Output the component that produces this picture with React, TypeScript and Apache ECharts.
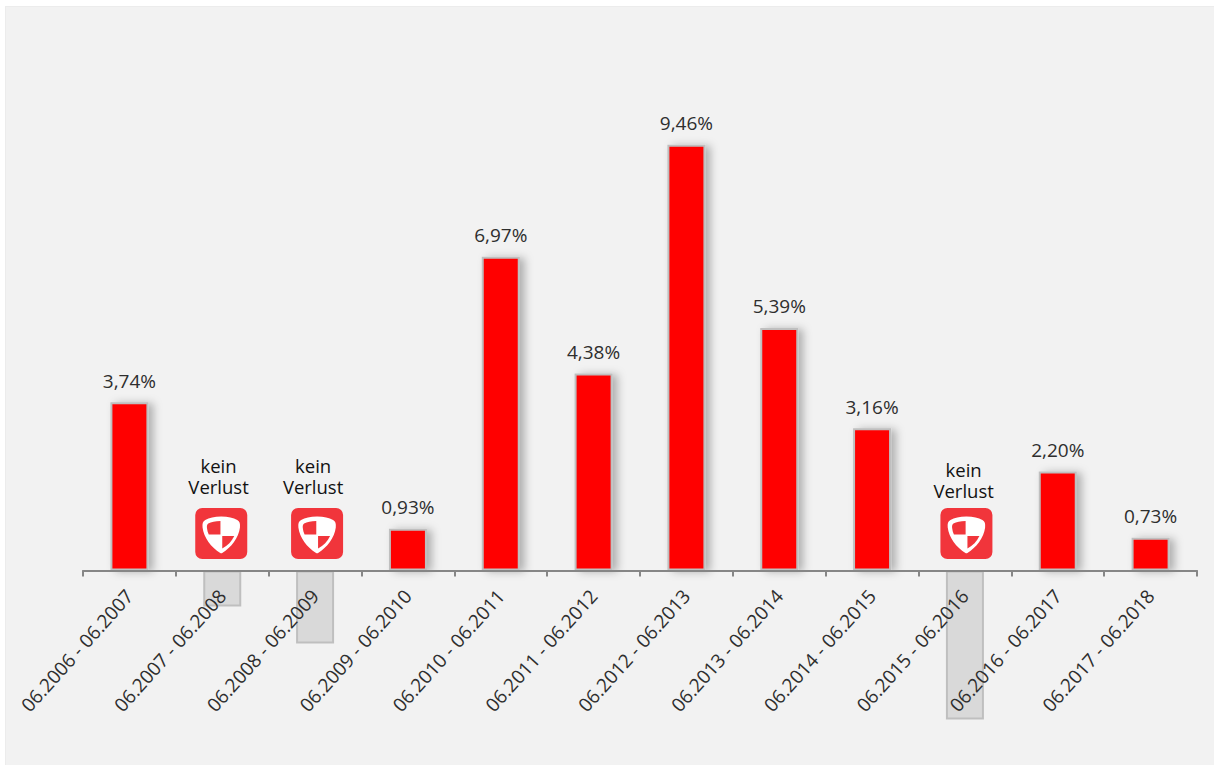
import React, { useEffect, useRef } from "react";
import * as echarts from "echarts";

const categories = [
  "06.2006 - 06.2007", "06.2007 - 06.2008", "06.2008 - 06.2009", "06.2009 - 06.2010",
  "06.2010 - 06.2011", "06.2011 - 06.2012", "06.2012 - 06.2013", "06.2013 - 06.2014",
  "06.2014 - 06.2015", "06.2015 - 06.2016", "06.2016 - 06.2017", "06.2017 - 06.2018",
];
const values = [3.74, -0.8, -1.62, 0.93, 6.97, 4.38, 9.46, 5.39, 3.16, -3.31, 2.2, 0.73];
const noLossCategories = [1, 2, 9];
const noLossText = "kein\nVerlust";

const FONT = '"Open Sans", sans-serif';

const shieldD =
  "M0,-17 C-7,-17 -12,-15.5 -16,-13.5 C-18.5,-12 -19,-10 -18.7,-6 C-17.5,4 -10,14 -1,19.5 C-0.4,19.9 0.4,19.9 1,19.5 C10,14 17.5,4 18.7,-6 C19,-10 18.5,-12 16,-13.5 C12,-15.5 7,-17 0,-17 Z";
const quarterA = "M-0.8,-12.5 C-6,-12.5 -10,-11.5 -13,-10 C-14.5,-9 -14.5,-7 -14.2,-5 C-14,-3 -13.5,-1 -12.5,1 L-0.8,1 Z";
const quarterB = "M1,2.5 L13,2.5 C10.5,8 6.5,12 1,15 Z";
echarts.graphic.registerShape("shieldOuter", echarts.graphic.extendPath(shieldD, {}));
echarts.graphic.registerShape("shieldA", echarts.graphic.extendPath(quarterA, {}));
echarts.graphic.registerShape("shieldB", echarts.graphic.extendPath(quarterB, {}));

export default function App() {
  const ref = useRef<HTMLDivElement>(null);
  useEffect(() => {
    document.body.style.margin = "0";
    document.body.style.background = "#fff";
    const chart = echarts.init(ref.current!, null, { renderer: "svg" });
    chart.setOption({
      animation: false,
      backgroundColor: "transparent",
      grid: { left: 83, right: 17, top: 120.5, bottom: 14.5, outerBoundsMode: "none", containLabel: false },
      xAxis: {
        type: "category",
        data: categories,
        z: 6,
        axisLine: { onZero: true, lineStyle: { color: "#868686", width: 2 } },
        axisTick: { show: true, alignWithLabel: false, length: 6, lineStyle: { color: "#868686", width: 2 } },
        axisLabel: {
          rotate: 48,
          interval: 0,
          margin: -158,
          hideOverlap: false,
          fontFamily: FONT,
          fontSize: 19,
          color: "#2e2e2e",
        },
      },
      yAxis: { type: "value", min: -4, max: 10, interval: 1, show: false, splitLine: { show: false } },
      series: [
        {
          type: "bar",
          barWidth: 38,
          data: values.map((v) => ({
            value: v,
            itemStyle:
              v >= 0
                ? {
                    color: "#ff0000",
                    borderColor: "#bfbfbf",
                    borderWidth: 2,
                    shadowColor: "rgba(0,0,0,0.28)",
                    shadowBlur: 8,
                    shadowOffsetX: 5,
                    shadowOffsetY: 1,
                  }
                : { color: "#d9d9d9", borderColor: "#bfbfbf", borderWidth: 2 },
            label:
              v >= 0
                ? {
                    show: true,
                    position: "top",
                    distance: 12,
                    formatter: v.toFixed(2).replace(".", ",") + "%",
                    fontFamily: FONT,
                    fontSize: 19,
                    color: "#2e2e2e",
                  }
                : { show: false },
          })),
        },
        {
          type: "custom",
          coordinateSystem: "cartesian2d",
          silent: true,
          z: 5,
          data: noLossCategories.map((c) => [c, 0]),
          renderItem: (_p: any, api: any) => {
            const cat = api.value(0);
            const [x, y0] = api.coord([cat, 0]);
            const cy = y0 - 37;
            const textY = cat === 9 ? y0 - 91 : y0 - 95;
            return {
              type: "group",
              children: [
                {
                  type: "text",
                  x: x + (cat === 9 ? -1.3 : cat === 1 ? -3.7 : -2),
                  y: textY,
                  style: {
                    text: noLossText,
                    fontFamily: FONT,
                    fontSize: 18.5,
                    lineHeight: 21,
                    fill: "#111",
                    align: "center",
                    verticalAlign: "middle",
                  },
                },
                {
                  type: "group",
                  x: x + (cat === 9 ? 1.5 : cat === 1 ? -1 : 2),
                  y: cy,
                  children: [
                    {
                      type: "rect",
                      shape: { x: -26, y: -25.5, width: 52, height: 51, r: 7 },
                      style: { fill: "#f1353b" },
                    },
                    { type: "shieldOuter", style: { fill: "#ffffff" } },
                    { type: "shieldA", style: { fill: "#f1353b" } },
                    { type: "shieldB", style: { fill: "#f1353b" } },
                  ],
                },
              ],
            };
          },
        },
      ],
    });
    return () => chart.dispose();
  }, []);
  return (
    <div style={{ position: "absolute", left: 0, top: 0, width: 1214, height: 765, background: "#fff", overflow: "hidden" }}>
      <div style={{ position: "absolute", left: 6, top: 7, width: 1208, height: 758, background: "#f2f2f2", boxShadow: "0 0 0 1px #ececec" }} />
      <div ref={ref} style={{ position: "absolute", left: 0, top: 0, width: 1214, height: 765 }} />
    </div>
  );
}
